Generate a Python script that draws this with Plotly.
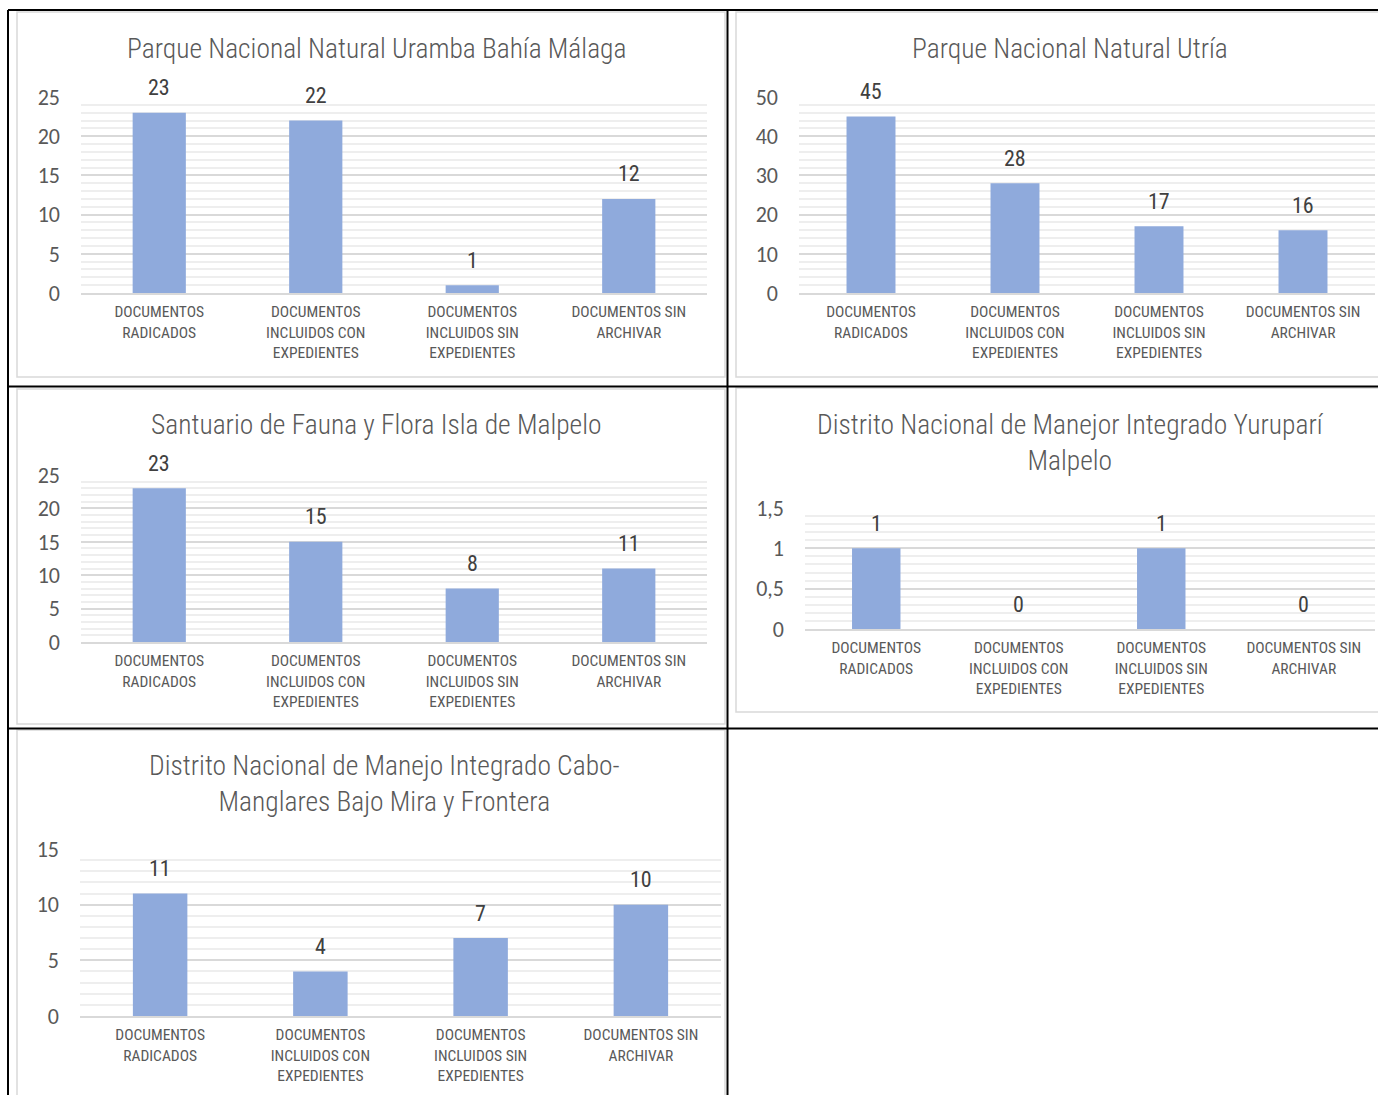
import plotly.graph_objects as go

# ---------------- data ----------------
categories = [
    "DOCUMENTOS RADICADOS",
    "DOCUMENTOS INCLUIDOS CON EXPEDIENTES",
    "DOCUMENTOS INCLUIDOS SIN EXPEDIENTES",
    "DOCUMENTOS SIN ARCHIVAR",
]
category_labels = [
    "DOCUMENTOS<br>RADICADOS",
    "DOCUMENTOS<br>INCLUIDOS CON<br>EXPEDIENTES",
    "DOCUMENTOS<br>INCLUIDOS SIN<br>EXPEDIENTES",
    "DOCUMENTOS SIN<br>ARCHIVAR",
]

title_uramba = "Parque Nacional Natural Uramba Bahía Málaga"
title_utria = "Parque Nacional Natural Utría"
title_malpelo = "Santuario de Fauna y Flora Isla de Malpelo"
title_yurupari = "Distrito Nacional de Manejor Integrado Yuruparí<br>Malpelo"
title_cabo = "Distrito Nacional de Manejo Integrado Cabo-<br>Manglares Bajo Mira y Frontera"

values_uramba = [23, 22, 1, 12]
values_utria = [45, 28, 17, 16]
values_malpelo = [23, 15, 8, 11]
values_yurupari = [1, 0, 1, 0]
values_cabo = [11, 4, 7, 10]

axis_max = [25, 50, 25, 1.5, 15]
axis_step = [5, 10, 5, 0.5, 5]

# ---------------- layout helpers ----------------
W, H = 1378, 1095
BAR = "#8FAADC"
TXT = "#595959"
NARROW = "Liberation Sans Narrow, Arial Narrow, Roboto Condensed, sans-serif"
TICKF = "Carlito, Calibri, Lato, sans-serif"


def px(x):
    return x / W


def py(y):
    return 1 - y / H


# plot boxes in pixels: (x0, x1, ytop, ybottom), title center (x, y)
panels = [
    dict(vals=values_uramba, title=title_uramba, box=(81, 707, 97, 293), tc=(376, 48)),
    dict(vals=values_utria, title=title_utria, box=(799, 1375, 97, 293), tc=(1070, 48)),
    dict(vals=values_malpelo, title=title_malpelo, box=(81, 707, 475, 642), tc=(376, 425)),
    dict(vals=values_yurupari, title=title_yurupari, box=(805, 1375, 508, 629), tc=(1070, 442)),
    dict(vals=values_cabo, title=title_cabo, box=(80, 721, 849, 1016), tc=(384, 783)),
]

fig = go.Figure()
annotations = []
layout_axes = {}

for i, p in enumerate(panels):
    n = i + 1
    xa = "x" if n == 1 else f"x{n}"
    ya = "y" if n == 1 else f"y{n}"
    xkey = "xaxis" if n == 1 else f"xaxis{n}"
    ykey = "yaxis" if n == 1 else f"yaxis{n}"
    x0, x1, yt, yb = p["box"]

    fig.add_trace(go.Bar(
        x=categories, y=p["vals"], xaxis=xa, yaxis=ya,
        marker=dict(color=BAR, line=dict(width=0)),
        showlegend=False, hoverinfo="x+y",
    ))

    for c, v in zip(categories, p["vals"]):
        annotations.append(dict(
            x=c, y=v, xref=xa, yref=ya, text=f"{v:g}".replace(".", ","),
            showarrow=False, yanchor="middle", yshift=25,
            font=dict(family=NARROW, size=22, color="#404040"),
        ))

    layout_axes[xkey] = dict(
        domain=[px(x0), px(x1)], anchor=ya, automargin=False,
        type="category", categoryorder="array", categoryarray=categories,
        tickvals=categories, ticktext=category_labels,
        tickfont=dict(family=NARROW, size=15.5, color=TXT),
        showline=True, linecolor="#d9d9d9", linewidth=1.5,
        showgrid=False, ticks="", zeroline=False, fixedrange=True,
        ticklabelstandoff=4,
    )
    step = axis_step[i]
    layout_axes[ykey] = dict(
        domain=[py(yb), py(yt)], anchor=xa, automargin=False,
        range=[0, axis_max[i]], dtick=step, tick0=0,
        tickfont=dict(family=TICKF, size=22, color=TXT),
        showgrid=True, gridcolor="#d9d9d9", gridwidth=1.5,
        minor=dict(dtick=step / 5, showgrid=True, gridcolor="#eeeeee", gridwidth=1.5),
        zeroline=False, showline=False, ticks="", ticklabelstandoff=20,
        fixedrange=True,
    )

    tx, ty = p["tc"]
    annotations.append(dict(
        x=px(tx), y=py(ty), xref="paper", yref="paper", text=p["title"],
        showarrow=False, xanchor="center", yanchor="middle",
        font=dict(family=NARROW, size=27.5, color=TXT, weight=300),
    ))

shapes = []
# light grey chart frames
for (fx0, fy0, fx1, fy1) in [(17, 12, 725, 377), (736, 12, 1382, 377),
                             (17, 389, 725, 724), (736, 388, 1382, 712),
                             (17, 730, 725, 1100)]:
    shapes.append(dict(type="rect", xref="paper", yref="paper",
                       x0=px(fx0), x1=px(fx1), y0=py(fy1), y1=py(fy0),
                       line=dict(color="#d9d9d9", width=1.5), layer="below"))
# black table borders
for (lx0, ly0, lx1, ly1) in [(8, 10, 1380, 10), (8, 10, 8, 1097),
                             (727.5, 10, 727.5, 1097), (8, 386.5, 1380, 386.5),
                             (8, 728.5, 1380, 728.5)]:
    shapes.append(dict(type="line", xref="paper", yref="paper",
                       x0=px(lx0), x1=px(lx1), y0=py(ly0), y1=py(ly1),
                       line=dict(color="#000000", width=2)))

fig.update_layout(
    width=W, height=H, margin=dict(l=0, r=0, t=0, b=0, pad=0, autoexpand=False),
    paper_bgcolor="white", plot_bgcolor="white",
    bargap=0.66, separators=", ",
    annotations=annotations, shapes=shapes,
    **layout_axes,
)

fig.write_html("out.html", post_script="document.body.style.margin='0';",
               config={"displayModeBar": False})
